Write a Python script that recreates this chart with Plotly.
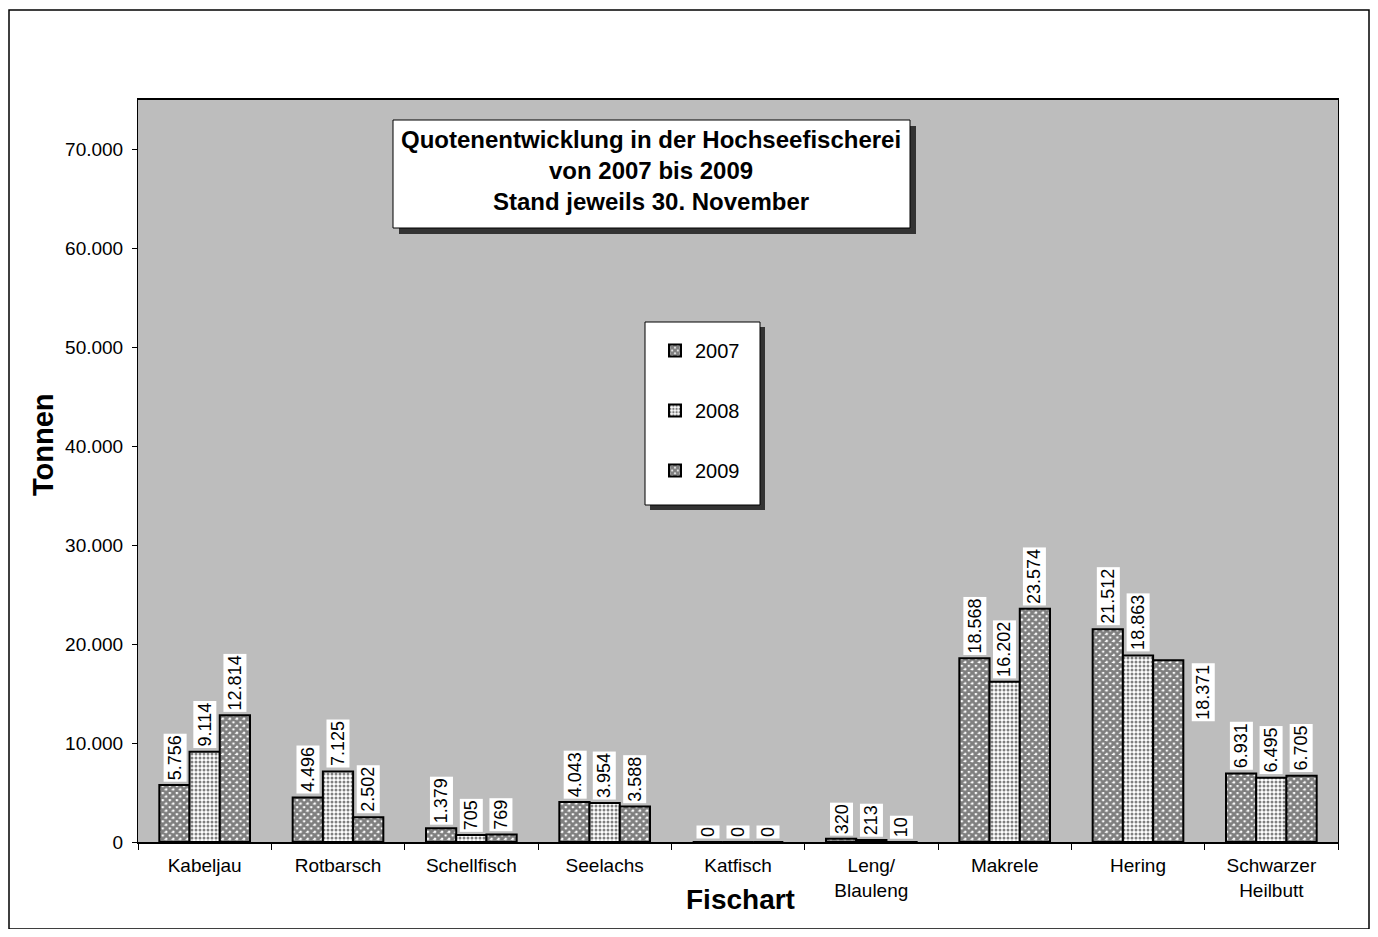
import plotly.graph_objects as go

categories = ["Kabeljau", "Rotbarsch", "Schellfisch", "Seelachs", "Katfisch",
              "Leng/<br>Blauleng", "Makrele", "Hering", "Schwarzer<br>Heilbutt"]
years = ["2007", "2008", "2009"]
v2007 = [5756, 4496, 1379, 4043, 0, 320, 18568, 21512, 6931]
v2008 = [9114, 7125, 705, 3954, 0, 213, 16202, 18863, 6495]
v2009 = [12814, 2502, 769, 3588, 0, 10, 23574, 18371, 6705]
series = [v2007, v2008, v2009]
y_ticks = [0, 10000, 20000, 30000, 40000, 50000, 60000, 70000]

FONT = "Liberation Sans, Arial, sans-serif"
# the page shows the figure offset by 8px (body margin)
OFF = 8
W, H = 1378 - 2 * OFF, 937 - 2 * OFF
PL, PR, PT, PB = 138, 1338, 100, 842          # plot area in screen pixels
ML, MR, MT, MB = PL - OFF, (W + OFF) - PR, PT - OFF, (H + OFF) - PB
PW, PH = PR - PL, PB - PT

def px(x):
    return (x - PL) / PW

def py(y):
    return (PB - y) / PH

patterns = [
    dict(shape="x", fgcolor="black", bgcolor="#ffffff", size=5, solidity=0.8),
    dict(shape=".", fgcolor="black", bgcolor="#ffffff", size=4, solidity=0.45),
    dict(shape="x", fgcolor="black", bgcolor="#ffffff", size=5, solidity=0.8),
]

fig = go.Figure()
for name, vals, pat in zip(years, series, patterns):
    fig.add_trace(go.Bar(
        name=name, x=categories, y=vals, legendgroup=name,
        marker=dict(color="white", pattern=pat, line=dict(color="black", width=2)),
        cliponaxis=False,
    ))

bar_px = 30
ann = []
for j, vals in enumerate(series):
    for i, v in enumerate(vals):
        label = f"{v:,}".replace(",", ".")
        a = dict(x=categories[i], y=v, xref="x", yref="y", text=label,
                 textangle=-90, showarrow=False, bgcolor="white",
                 font=dict(family=FONT, size=18, color="black"),
                 xanchor="center", yanchor="bottom",
                 xshift=(j - 1) * bar_px, yshift=3, borderpad=1)
        if i == 7 and j == 2:
            a.update(yanchor="top", xshift=65, yshift=-3)
        ann.append(a)

ann.append(dict(x=px(651), y=py(170), xref="paper", yref="paper",
                text="<b>Quotenentwicklung in der Hochseefischerei<br>von 2007 bis 2009<br>Stand jeweils 30. November</b>",
                showarrow=False, align="center", xanchor="center", yanchor="middle",
                font=dict(family=FONT, size=24, color="black")))
ann.append(dict(x=px(43), y=py(445), xref="paper", yref="paper", text="<b>Tonnen</b>",
                textangle=-90, showarrow=False, xanchor="center", yanchor="middle",
                font=dict(family=FONT, size=29, color="black")))
ann.append(dict(x=px(740), y=py(900), xref="paper", yref="paper", text="<b>Fischart</b>",
                showarrow=False, xanchor="center", yanchor="middle",
                font=dict(family=FONT, size=28, color="black")))

shapes = [
    # outer frame
    dict(type="rect", xref="paper", yref="paper", x0=px(9), x1=px(1369), y0=py(929), y1=py(10),
         line=dict(color="black", width=1.5), layer="below"),
    # title box shadow + box
    dict(type="rect", xref="paper", yref="paper", x0=px(399), x1=px(916), y0=py(234), y1=py(126),
         fillcolor="#333333", line=dict(width=0)),
    dict(type="rect", xref="paper", yref="paper", x0=px(393), x1=px(910), y0=py(228), y1=py(120),
         fillcolor="white", line=dict(color="black", width=1)),
    # legend box shadow + box
    dict(type="rect", xref="paper", yref="paper", x0=px(650), x1=px(765), y0=py(510), y1=py(327),
         fillcolor="#333333", line=dict(width=0)),
    dict(type="rect", xref="paper", yref="paper", x0=px(645), x1=px(760), y0=py(505), y1=py(322),
         fillcolor="white", line=dict(color="black", width=1)),
]

fig.update_layout(
    width=W, height=H,
    margin=dict(l=ML, r=MR, t=MT, b=MB),
    paper_bgcolor="white",
    plot_bgcolor="#bdbdbd",
    barmode="group", bargap=0.32, bargroupgap=0,
    separators=",.",
    font=dict(family=FONT, size=18, color="black"),
    annotations=ann,
    shapes=shapes,
    showlegend=True,
    legend=dict(x=px(655), y=py(331), xanchor="left", yanchor="top",
                bgcolor="rgba(0,0,0,0)", borderwidth=0,
                tracegroupgap=31, font=dict(family=FONT, size=20),
                itemwidth=30, traceorder="grouped"),
    xaxis=dict(showline=True, linecolor="black", linewidth=2, mirror=True,
               ticks="outside", tickson="boundaries", ticklen=6, tickcolor="black",
               ticklabelstandoff=5,
               tickfont=dict(family=FONT, size=19), showgrid=False),
    yaxis=dict(range=[0, 75000], tickvals=y_ticks, tickformat=",d",
               showline=True, linecolor="black", linewidth=1, mirror=True,
               ticks="outside", ticklen=5, tickcolor="black", ticklabelstandoff=5,
               tickfont=dict(family=FONT, size=19), showgrid=False, zeroline=False),
)

fig.write_html("out.html")
